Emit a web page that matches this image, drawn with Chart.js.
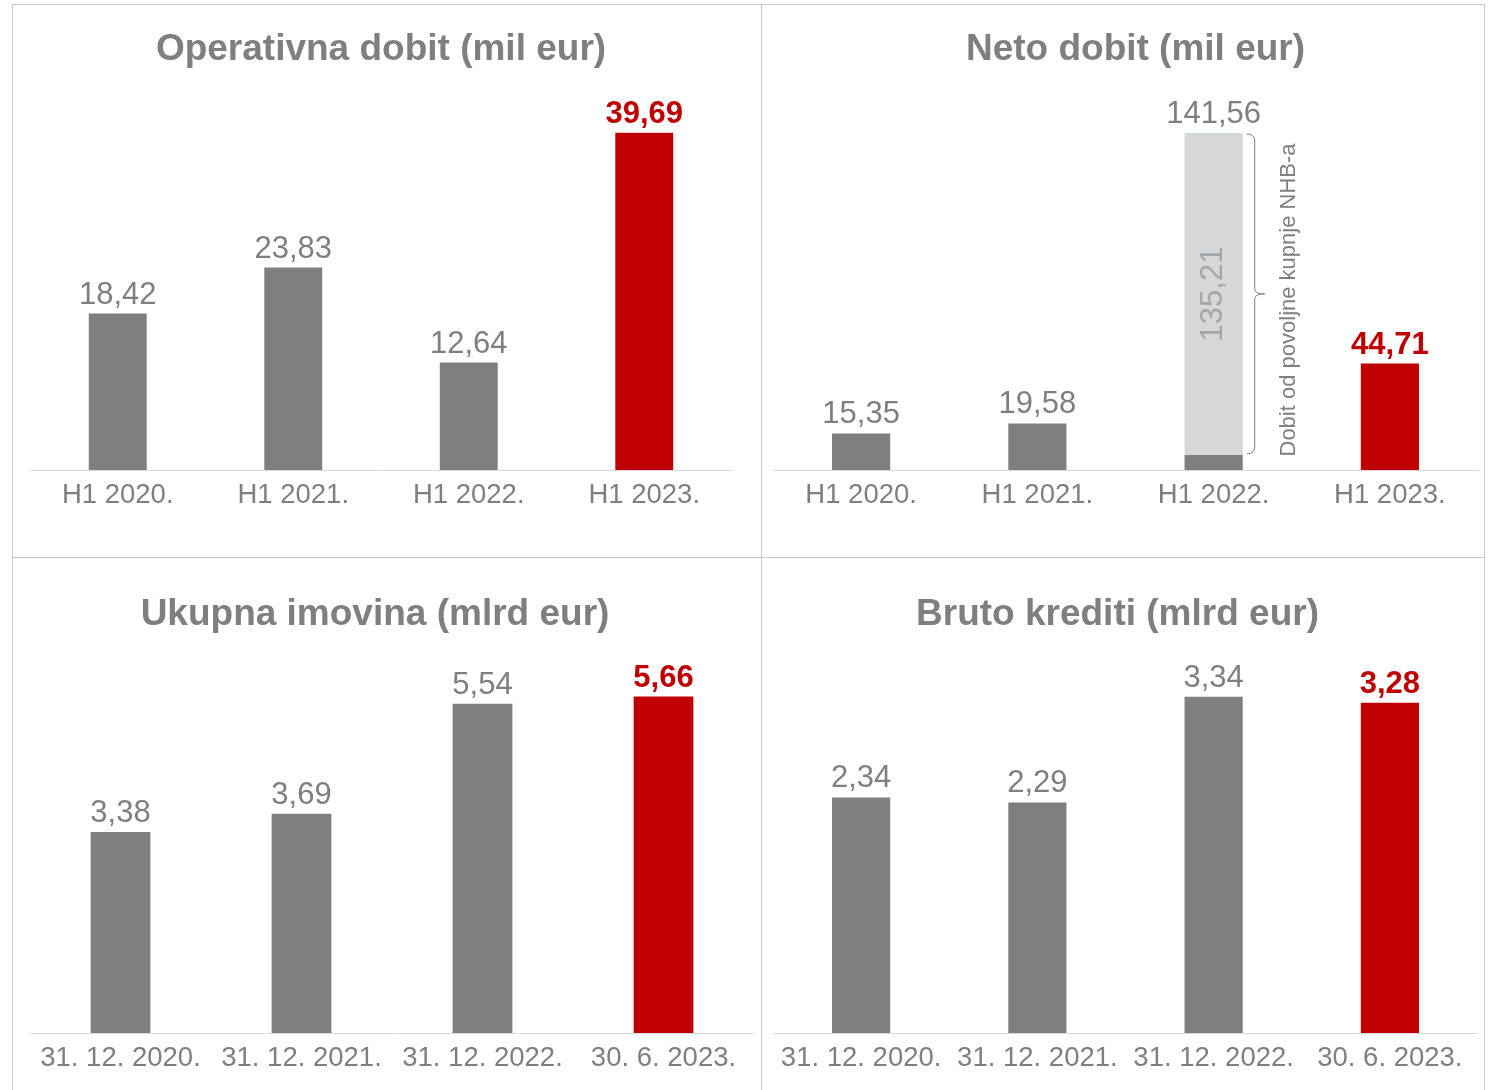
<!DOCTYPE html>
<html>
<head>
<meta charset="utf-8">
<script src="https://cdn.jsdelivr.net/npm/chart.js@4.4.0/dist/chart.umd.min.js"></script>
<style>
  body { margin: 0; background: #fff; }
  #wrap { position: relative; width: 1491px; height: 1090px; overflow: hidden; }
  .line { position: absolute; background: #c8c8c8; }
  .box { position: absolute; }
</style>
</head>
<body>
<div id="wrap">
  <div class="line" style="left:12px;top:4px;width:1473px;height:1px"></div>
  <div class="line" style="left:12px;top:4px;width:1px;height:1086px"></div>
  <div class="line" style="left:761px;top:4px;width:1px;height:1086px"></div>
  <div class="line" style="left:1484px;top:4px;width:1px;height:1086px"></div>
  <div class="line" style="left:12px;top:557px;width:1473px;height:1px"></div>

  <div class="box" style="left:30px;top:4px;width:702px;height:516px"><canvas id="opChart"></canvas></div>
  <div class="box" style="left:773px;top:4px;width:725px;height:516px"><canvas id="netoChart"></canvas></div>
  <div class="box" style="left:-4px;top:558px;width:758px;height:525px"><canvas id="imovinaChart"></canvas></div>
  <div class="box" style="left:757px;top:558px;width:721px;height:525px"><canvas id="kreditiChart"></canvas></div>
</div>

<script>
// DATA
const halfYears = ["H1 2020.", "H1 2021.", "H1 2022.", "H1 2023."];
const dates = ["31. 12. 2020.", "31. 12. 2021.", "31. 12. 2022.", "30. 6. 2023."];

const operativnaDobit = [18.42, 23.83, 12.64, 39.69];
const netoDobit = [15.35, 19.58, 141.56, 44.71];
const netoNhb = [0, 0, 135.21, 0];        // dobit od povoljne kupnje NHB-a
const ukupnaImovina = [3.38, 3.69, 5.54, 5.66];
const brutoKrediti = [2.34, 2.29, 3.34, 3.28];

const GRAY = "#7f7f7f";
const RED = "#c00000";
const LIGHT = "#d6d7d9";
const TEXT = "#7f7f7f";
const FONT = "'Liberation Sans', Arial, sans-serif";

Chart.defaults.font.family = FONT;
Chart.defaults.color = TEXT;

function fmt(v) {
  return v.toFixed(2).replace(".", ",");
}

function barColors(n) {
  return Array.from({ length: n }, (_, i) => (i === n - 1 ? RED : GRAY));
}

// value labels over bars
const valueLabels = {
  id: "valueLabels",
  afterDatasetsDraw(chart, args, opts) {
    const ctx = chart.ctx;
    const xs = chart.scales.x;
    const ys = chart.scales.y;
    ctx.save();
    ctx.textAlign = "center";
    ctx.textBaseline = "alphabetic";
    opts.values.forEach((v, i) => {
      const last = i === opts.values.length - 1;
      ctx.font = (last ? "bold " : "") + "31px " + FONT;
      ctx.fillStyle = last ? RED : TEXT;
      ctx.fillText(fmt(v), xs.getPixelForValue(i), ys.getPixelForValue(v) - 10);
    });
    ctx.restore();
  }
};

// bracket + rotated note on the NHB bar
const nhbNote = {
  id: "nhbNote",
  afterDatasetsDraw(chart) {
    if (chart.canvas.id !== "netoChart") return;
    const ctx = chart.ctx;
    const bar = chart.getDatasetMeta(1).data[2];
    const top = bar.y, bot = bar.base;
    const mid = (top + bot) / 2;
    const cx = bar.x;
    ctx.save();
    // value inside the bar
    ctx.translate(cx, mid);
    ctx.rotate(-Math.PI / 2);
    ctx.font = "31px " + FONT;
    ctx.fillStyle = "#a6a6a6";
    ctx.textAlign = "center";
    ctx.textBaseline = "middle";
    ctx.fillText(fmt(netoNhb[2]), 0, 0);
    ctx.restore();

    // brace
    const bx = cx + bar.width / 2 + 4;
    ctx.save();
    ctx.strokeStyle = GRAY;
    ctx.lineWidth = 1;
    ctx.beginPath();
    ctx.moveTo(bx, top + 1);
    ctx.quadraticCurveTo(bx + 8, top + 1, bx + 8, top + 8);
    ctx.lineTo(bx + 8, mid - 5);
    ctx.quadraticCurveTo(bx + 8, mid, bx + 18, mid);
    ctx.quadraticCurveTo(bx + 8, mid, bx + 8, mid + 5);
    ctx.lineTo(bx + 8, bot - 8);
    ctx.quadraticCurveTo(bx + 8, bot - 1, bx, bot - 1);
    ctx.stroke();

    ctx.translate(bx + 42, mid + 6);
    ctx.rotate(-Math.PI / 2);
    ctx.font = "22px " + FONT;
    ctx.fillStyle = TEXT;
    ctx.textAlign = "center";
    ctx.textBaseline = "middle";
    ctx.fillText("Dobit od povoljne kupnje NHB-a", 0, 0);
    ctx.restore();
  }
};

function makeChart(id, title, labels, datasets, yMax, yPos, yWidth, titleTop, values, stacked) {
  return new Chart(document.getElementById(id), {
    type: "bar",
    data: { labels, datasets },
    plugins: [valueLabels, nhbNote],
    options: {
      responsive: true,
      maintainAspectRatio: false,
      animation: false,
      layout: { padding: 0 },
      datasets: { bar: { categoryPercentage: 1, barPercentage: 0.33 } },
      plugins: {
        legend: { display: false },
        tooltip: { enabled: false },
        title: {
          display: true,
          text: title,
          color: TEXT,
          font: { size: 37, weight: "bold" },
          padding: { top: titleTop, bottom: 17 }
        },
        valueLabels: { values }
      },
      scales: {
        x: {
          stacked,
          grid: { display: false, drawTicks: false },
          border: { display: true, color: "#d9d9d9", width: 1 },
          ticks: { color: TEXT, font: { size: 27.5 }, padding: 9, maxRotation: 0, autoSkip: false },
          afterFit: (axis) => { axis.height = 50; }
        },
        y: {
          stacked,
          position: yPos,
          display: yWidth > 0,
          min: 0,
          max: yMax,
          grid: { display: false, drawTicks: false },
          border: { display: false },
          ticks: { display: false },
          afterFit: (axis) => { axis.width = yWidth; }
        }
      }
    }
  });
}

makeChart("opChart", "Operativna dobit (mil eur)", halfYears,
  [{ data: operativnaDobit, backgroundColor: barColors(4) }],
  44.8, "left", 0, 24, operativnaDobit, false);

makeChart("netoChart", "Neto dobit (mil eur)", halfYears,
  [
    { data: netoDobit.map((v, i) => v - netoNhb[i]), backgroundColor: barColors(4) },
    { data: netoNhb, backgroundColor: LIGHT }
  ],
  159.9, "right", 20, 24, netoDobit, true);

makeChart("imovinaChart", "Ukupna imovina (mlrd eur)", dates,
  [{ data: ukupnaImovina, backgroundColor: barColors(4) }],
  6.37, "left", 34, 35, ukupnaImovina, false);

makeChart("kreditiChart", "Bruto krediti (mlrd eur)", dates,
  [{ data: brutoKrediti, backgroundColor: barColors(4) }],
  3.76, "left", 16, 35, brutoKrediti, false);
</script>
</body>
</html>
